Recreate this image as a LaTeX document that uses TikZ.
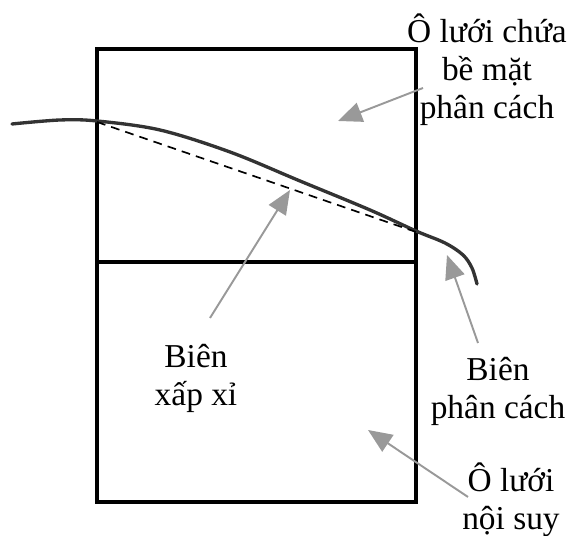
\documentclass[tikz,border=0pt]{standalone}
\usepackage{fontspec}
\setmainfont{Liberation Serif}
\usetikzlibrary{arrows.meta}

\definecolor{curvegray}{HTML}{333333}
\definecolor{pointergray}{HTML}{999999}

\tikzset{
  cellline/.style={line width=1.95pt, black},
  pointer/.style={-{Triangle[length=0.48cm, width=0.4cm]}, line width=1.1pt, pointergray},
  label/.style={align=center, inner sep=0pt, font=\fontsize{19}{21.6}\selectfont}
}

\begin{document}
\begin{tikzpicture}

      \useasboundingbox (0,0) rectangle (11.42,10.72);

      % hai ô lưới
      \draw[cellline] (1.94,0.68) rectangle (8.32,9.74);
      \draw[cellline] (1.94,5.48) -- (8.32,5.48);

      % biên phân cách
      \draw[line width=1.9pt, curvegray, line cap=round] plot[smooth, tension=0.55] coordinates {
        (0.24,8.24) (1.20,8.32) (1.94,8.30) (3.20,8.12) (4.60,7.68) (6.00,7.10)
        (7.40,6.52) (8.32,6.10) (8.90,5.86) (9.26,5.62) (9.44,5.36) (9.54,5.04)};

      % biên xấp xỉ
      \coordinate (dashA) at (1.94,8.28);
      \coordinate (dashB) at (8.32,6.08);
      \draw[dashed, dash pattern=on 5pt off 3.5pt, line width=0.95pt] (dashA) -- (dashB);

      % nhãn
      \node[label] (lblCell) at (9.74,9.32) {Ô lưới chứa\\bề mặt\\phân cách};
      \node[label] (lblApprox) at (3.92,3.16) {Biên\\xấp xỉ};
      \node[label] (lblInterface) at (9.96,2.90) {Biên\\phân cách};
      \node[label] (lblInterp) at (10.22,0.72) {Ô lưới\\nội suy};

      % mũi tên
      \coordinate (cellTail) at (8.46,8.96);
      \coordinate (cellTip) at (6.76,8.30);
      \coordinate (approxTail) at (4.20,4.36);
      \coordinate (approxTip) at (5.80,6.92);
      \coordinate (interfaceTail) at (9.56,3.86);
      \coordinate (interfaceTip) at (8.94,5.62);
      \coordinate (interpTail) at (9.36,0.78);
      \coordinate (interpTip) at (7.36,2.12);
      \draw[pointer] (cellTail) -- (cellTip);
      \draw[pointer] (approxTail) -- (approxTip);
      \draw[pointer] (interfaceTail) -- (interfaceTip);
      \draw[pointer] (interpTail) -- (interpTip);

\end{tikzpicture}
\end{document}
